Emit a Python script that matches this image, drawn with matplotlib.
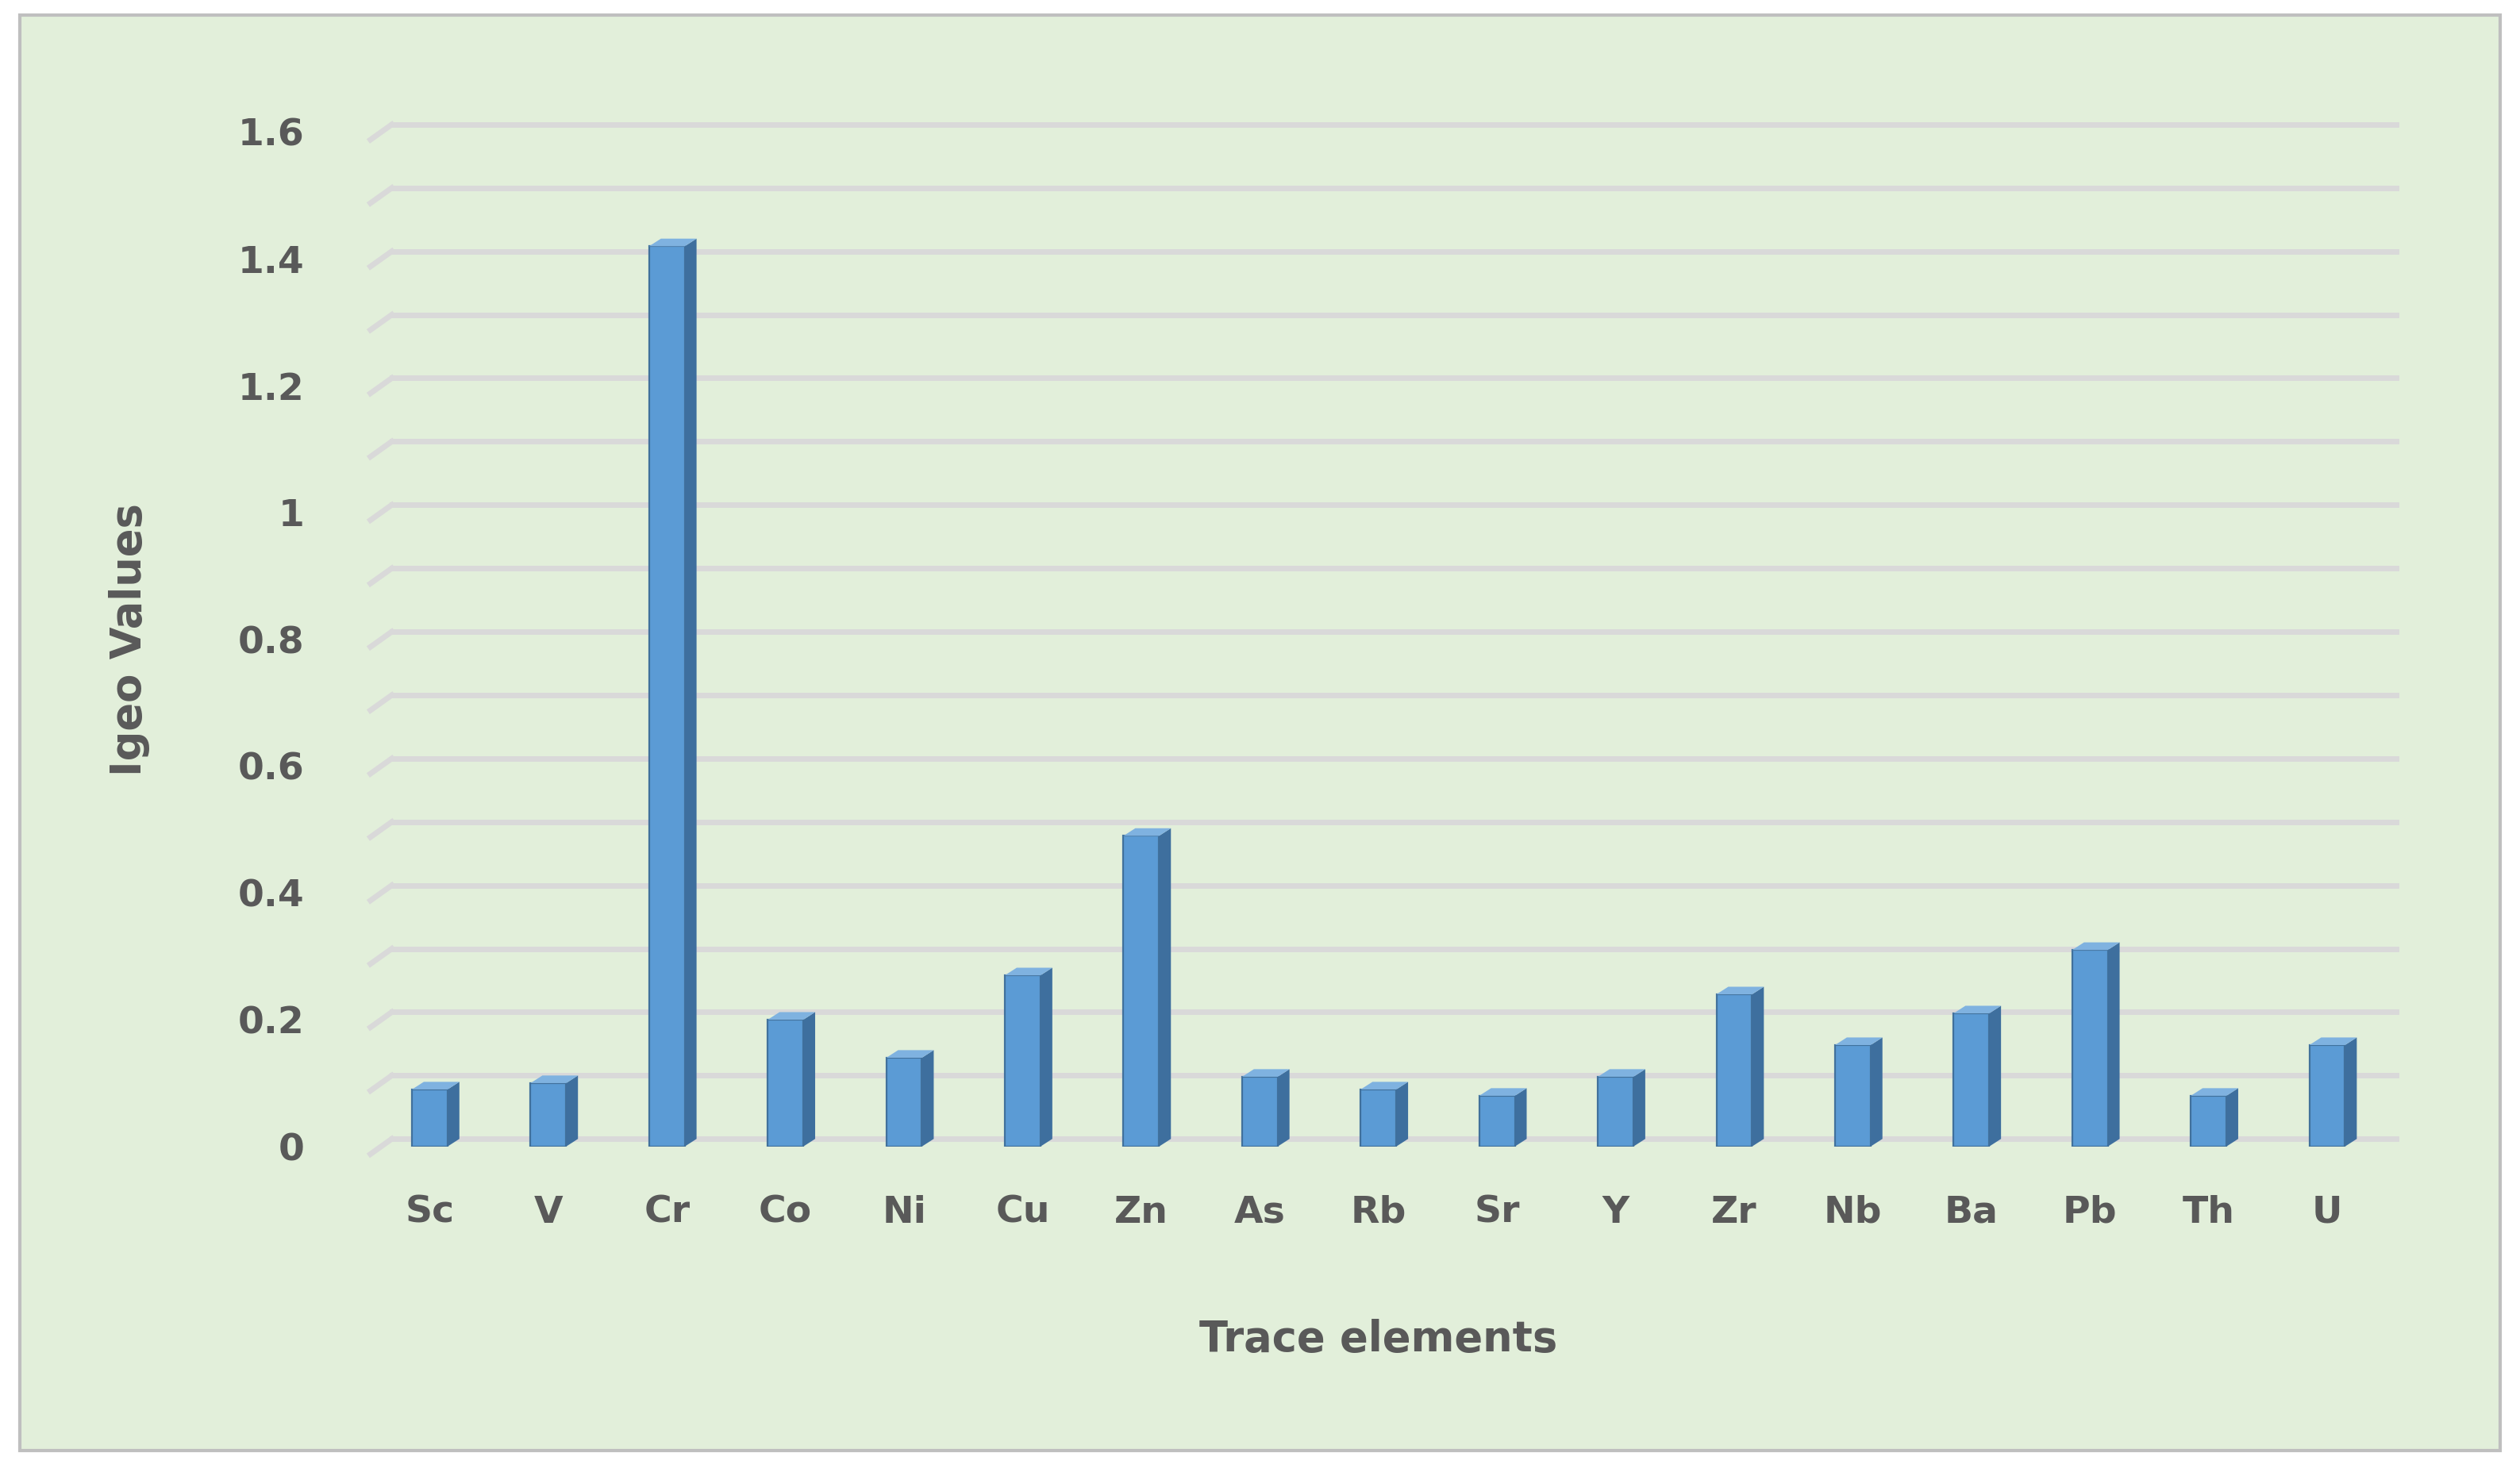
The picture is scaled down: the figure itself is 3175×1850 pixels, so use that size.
import numpy as np
import matplotlib.pyplot as plt

elements = ["Sc", "V", "Cr", "Co", "Ni", "Cu", "Zn", "As", "Rb", "Sr", "Y", "Zr", "Nb", "Ba", "Pb", "Th", "U"]
igeo = [0.09, 0.10, 1.42, 0.20, 0.14, 0.27, 0.49, 0.11, 0.09, 0.08, 0.11, 0.24, 0.16, 0.21, 0.31, 0.08, 0.16]
yticks = [0, 0.2, 0.4, 0.6, 0.8, 1, 1.2, 1.4, 1.6]

bg = "#E2EFDA"
fig = plt.figure(figsize=(15.875, 9.25), dpi=200, facecolor="white")
# outer panel
fig.patches.append(plt.Rectangle((0.008, 0.012), 0.984, 0.978, transform=fig.transFigure,
                                 facecolor=bg, edgecolor="#BFBFBF", lw=1.5, zorder=-1))
ax = fig.add_axes([0.147, 0.219, 0.80, 0.691])
ax.set_facecolor("none")
n = len(elements)
x = np.arange(n)
ax.set_xlim(-0.5, n - 0.5)
ax.set_ylim(0, 1.6)

dx, dy = 0.10, 0.012
# gridlines with perspective slant at the left
for g in np.arange(0, 1.61, 0.1):
    ax.plot([-0.32, n - 0.42], [g + dy, g + dy], color="#D9D9D9", lw=2.5, zorder=1, clip_on=False)
    ax.plot([-0.5, -0.32], [g - 0.012, g + dy], color="#D9D9D9", lw=2.5, zorder=1, clip_on=False)

w = 0.3
front = "#5B9BD5"
side = "#3E6F9E"
top = "#7FB2E0"
ax.bar(x, igeo, width=w, color=front, edgecolor="#41719C", lw=0.8, zorder=3)
for xi, v in zip(x, igeo):
    r = xi + w / 2
    l = xi - w / 2
    ax.fill([r, r + dx, r + dx, r], [0, dy, v + dy, v], color=side, zorder=3, lw=0)
    ax.fill([l, l + dx, r + dx, r], [v, v + dy, v + dy, v], color=top, zorder=3, lw=0)

for s in ax.spines.values():
    s.set_visible(False)
ax.set_yticks(yticks)
ax.set_yticklabels([f"{t:g}" for t in yticks])
ax.set_xticks(x)
ax.set_xticklabels(elements)
ax.tick_params(length=0, labelsize=17, labelcolor="#595959")
ax.tick_params(axis="y", pad=30)
ax.tick_params(axis="x", pad=22)
for t in ax.get_xticklabels() + ax.get_yticklabels():
    t.set_fontweight("bold")
ax.set_xlabel("Trace elements", fontsize=19, fontweight="bold", color="#595959", labelpad=40)
ax.set_ylabel("Igeo Values", fontsize=19, fontweight="bold", color="#595959", labelpad=40)

fig.savefig("out.png", dpi=200, facecolor="white")
